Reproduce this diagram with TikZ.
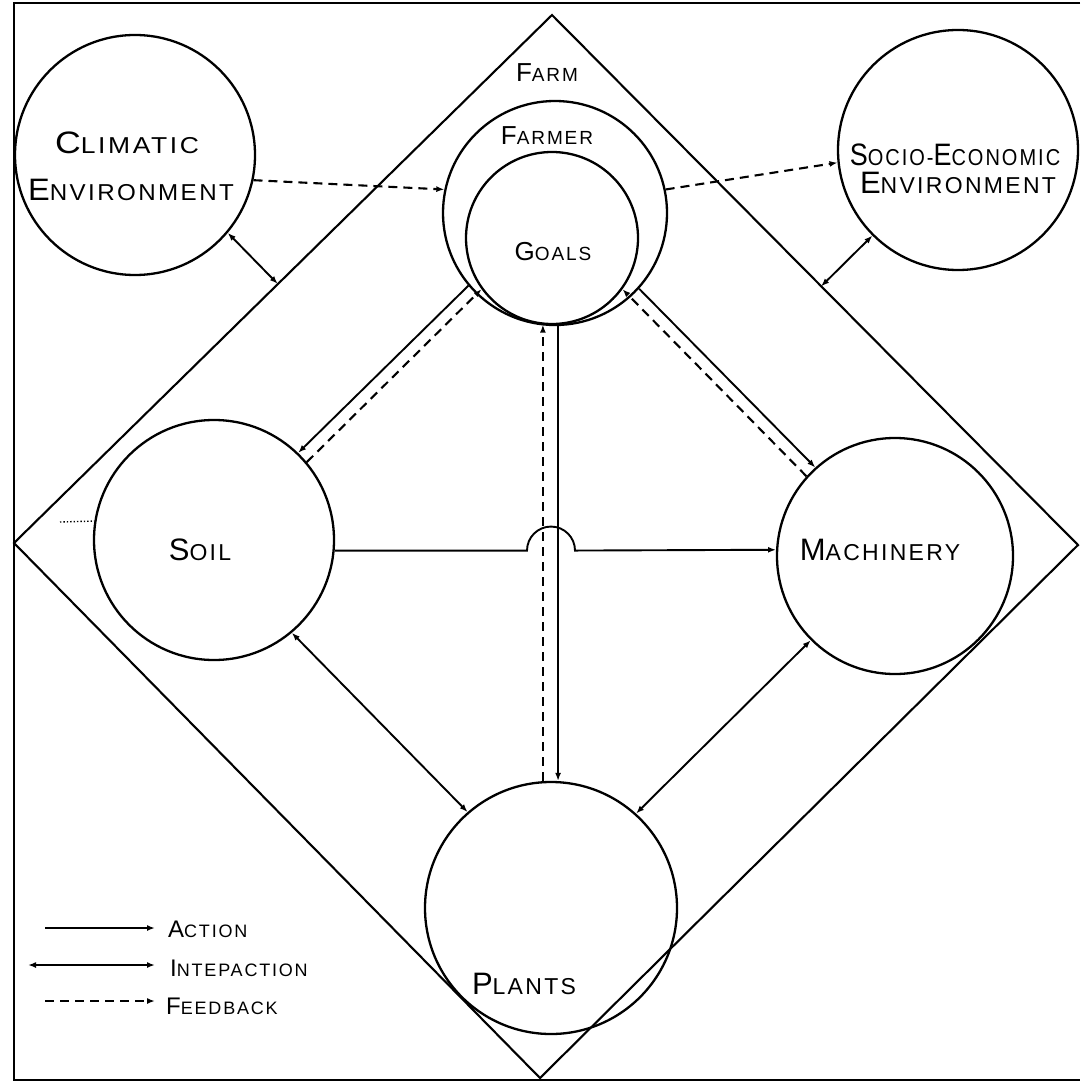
\documentclass[tikz,border=0pt]{standalone}
\usepackage{fontspec}
\usepackage{graphicx}
\newfontfamily\handfont[LetterSpace=10]{Liberation Sans}
\usetikzlibrary{arrows.meta}
\newcommand\bigsz{31}
\newcommand\smsz{23}
\newcommand\hw[2]{{\fontsize{\bigsz}{\bigsz}\selectfont #1}{\fontsize{\smsz}{\smsz}\selectfont #2}}
\begin{document}
\begin{tikzpicture}[x=1pt,y=1pt,
  ring/.style={draw, circle, line width=2.3pt, inner sep=0pt},
  lbl/.style={font=\handfont, inner sep=0pt},
  action/.style={line width=1.9pt, -{Latex[length=8pt,width=6pt]}},
  inter/.style={line width=1.9pt, {Latex[length=8pt,width=6pt]}-{Latex[length=8pt,width=6pt]}},
  feedback/.style={line width=2.1pt, dash pattern=on 9pt off 6pt, -{Latex[length=8pt,width=6pt]}},
  edge/.style={line width=2.1pt}
]
\useasboundingbox (0,0) rectangle (1080,-1091);

% frame
\coordinate (f1) at (1080,-3);
\coordinate (f2) at (14,-3);
\coordinate (f3) at (14,-1080);
\coordinate (f4) at (1080,-1080);
\draw[edge] (f1) -- (f2) -- (f3) -- (f4);

% farm diamond
\coordinate (dT) at (552,-15);
\coordinate (dR) at (1078,-545);
\coordinate (dB) at (540,-1078);
\coordinate (dL) at (14,-543);
\draw[edge] (dT) -- (dR) -- (dB) -- (dL) -- cycle;

% circles
\node[ring, minimum size=240pt] (clim) at (135,-155) {};
\node[ring, minimum size=240pt] (socio) at (958,-150) {};
\node[ring, minimum size=224pt] (farmer) at (555,-213) {};
\node[ring, minimum size=172pt] (goals) at (552,-238) {};
\node[ring, minimum size=240pt] (soil) at (214,-540) {};
\node[ring, minimum size=236pt] (mach) at (895,-556) {};
\node[ring, minimum size=252pt] (plants) at (551,-908) {};

% labels
\node[lbl] (tclim1) at (127,-143) {\scalebox{1.15}[1]{\hw{C}{LIMATIC}}};
\node[lbl] (tclim2) at (131,-190) {\scalebox{1.05}[1]{\hw{E}{NVIRONMENT}}};
\node[lbl] (tsoc1) at (955,-155) {\scalebox{0.87}[1]{\hw{S}{OCIO-}\hw{E}{CONOMIC}}};
\node[lbl] (tsoc2) at (958,-183) {\hw{E}{NVIRONMENT}};
\node[lbl] (tfarm) at (547,-73) {\renewcommand\bigsz{26}\renewcommand\smsz{19}\hw{F}{ARM}};
\node[lbl] (tfarmer) at (547,-136) {\renewcommand\bigsz{26}\renewcommand\smsz{19}\hw{F}{ARMER}};
\node[lbl] (tgoals) at (553,-252) {\renewcommand\bigsz{26}\renewcommand\smsz{19}\hw{G}{OALS}};
\node[lbl] (tsoil) at (200,-550) {\hw{S}{OIL}};
\node[lbl] (tmach) at (880,-550) {\hw{M}{ACHINERY}};
\node[lbl] (tplants) at (524,-984) {\hw{P}{LANTS}};

% environment <-> farm
\coordinate (cd) at (277.7,-283.9);
\coordinate (sd) at (821.1,-286.4);
\draw[inter] (clim.-40) -- (cd);
\draw[inter] (socio.225) -- (sd);
\draw[feedback] (clim.-12) -- (farmer.168);
\draw[feedback] (farmer.12) -- (socio.186);

% goals <-> soil / machinery
\draw[action] (farmer.220) -- (soil.46);
\draw[feedback] (soil.40) -- (goals.216);
\draw[action] (farmer.-42) -- (mach.132);
\draw[feedback] (mach.138) -- (goals.-36);

% goals <-> plants
\draw[action] (goals.-86) -- (plants.north -| goals.-86);
\draw[feedback] (plants.north -| goals.-96) -- (goals.-96);

% soil -> machinery with hop
\coordinate (hopL) at (527,0);
\draw[action] (soil.-5) -- (soil.-5 -| hopL) arc[start angle=180, end angle=0, radius=24] -- (mach.177);

% interactions with plants
\draw[inter] (soil.-50) -- (plants.131);
\draw[inter] (mach.225) -- (plants.48);

% faint dotted mark at left
\coordinate (lx) at (60,-522);
\draw[line width=1.4pt, dotted] (lx) -- (soil.171);

% legend
\coordinate (la1) at (45,-928);
\coordinate (la2) at (155,-928);
\coordinate (li1) at (28,-965);
\coordinate (li2) at (155,-965);
\coordinate (lf1) at (45,-1001);
\coordinate (lf2) at (155,-1001);
\draw[action] (la1) -- (la2);
\draw[inter] (li1) -- (li2);
\draw[feedback] (lf1) -- (lf2);
\node[lbl, anchor=west] (tact) at (168,-929) {\renewcommand\bigsz{24}\renewcommand\smsz{18}\hw{A}{CTION}};
\node[lbl, anchor=west] (tint) at (170,-968) {\renewcommand\bigsz{24}\renewcommand\smsz{18}\hw{I}{NTEPACTION}};
\node[lbl, anchor=west] (tfb) at (166,-1006) {\renewcommand\bigsz{24}\renewcommand\smsz{18}\hw{F}{EEDBACK}};
\end{tikzpicture}
\end{document}
